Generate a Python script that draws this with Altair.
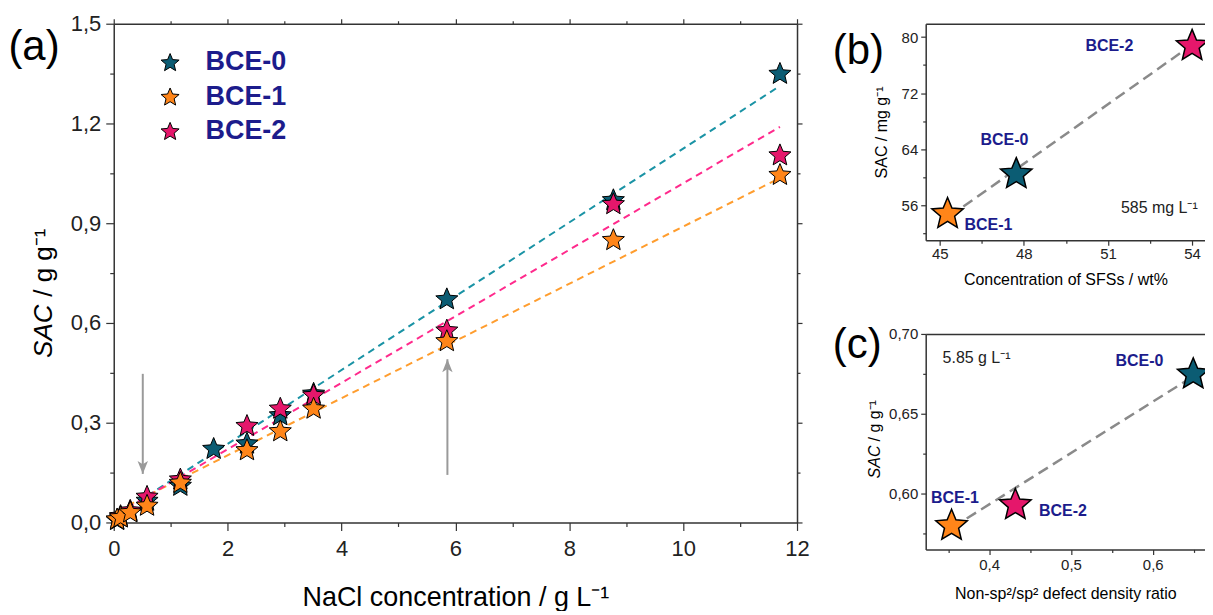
import math
import altair as alt
import pandas as pd

# ---------------- data: panel (a) ----------------
nacl = [0.06, 0.12, 0.29, 0.585, 1.17, 1.755, 2.34, 2.925, 3.51, 5.85, 8.775, 11.7]
sac_bce0 = [0.010, 0.018, 0.035, 0.068, 0.113, 0.224, 0.240, 0.325, 0.390, 0.674, 0.972, 1.352]
sac_bce1 = [0.012, 0.018, 0.033, 0.053, 0.122, None, 0.220, 0.277, 0.345, 0.548, 0.852, 1.048]
sac_bce2 = [None, 0.022, 0.038, 0.080, 0.132, None, 0.293, 0.345, 0.385, 0.580, 0.960, 1.107]
series = ["BCE-0", "BCE-1", "BCE-2"]

fit_x = [0.06, 11.7]
fit_bce0 = [0.021, 1.313]
fit_bce1 = [0.035, 1.036]
fit_bce2 = [0.026, 1.190]

arrow_x = [0.51, 5.86]
arrow_from = [0.447, 0.143]
arrow_to = [0.146, 0.491]

# ---------------- data: panel (b) ----------------
sfs_wt = [47.73, 45.28, 54.0]          # BCE-0, BCE-1, BCE-2
sac_585 = [60.65, 54.96, 78.95]
fit_b_x = [45.35, 54.0]
fit_b_y = [54.4, 78.9]

# ---------------- data: panel (c) ----------------
defect_ratio = [0.6495, 0.354, 0.432]  # BCE-0, BCE-1, BCE-2
sac_585g = [0.6757, 0.581, 0.594]
fit_c_x = [0.355, 0.648]
fit_c_y = [0.579, 0.673]

# ---------------- styles ----------------
FONT = "Liberation Sans"
NAVY = "#1c1c8c"
AXC = "#333333"
star_colors = ["#0b5c73", "#ff8519", "#e5176b"]
line_colors = ["#1a93a5", "#ff9d2e", "#ff2a8c"]


def star_path(inner=0.45):
    pts = []
    for k in range(10):
        ang = math.radians(-90 + 36 * k)
        r = 1.0 if k % 2 == 0 else inner
        pts.append(f"{r * math.cos(ang):.4f},{r * math.sin(ang) + 0.095:.4f}")
    return "M" + " L".join(pts) + " Z"


STAR = star_path()
HEAD_DOWN = "M0,0 L-0.4,-1 L0,-0.75 L0.4,-1 Z"
HEAD_UP = "M0,0 L-0.4,1 L0,0.75 L0.4,1 Z"


def axis(orient, values, major_test, label_expr, lsize, tick=8, minor=4,
         labels=True, title=None, tsize=None, lpad=4, tpad=8, ticks=True):
    kw = dict(orient=orient, values=values, grid=False, domainColor=AXC, domainWidth=1.5,
              tickColor=AXC, tickWidth=1.2, ticks=ticks,
              labels=labels, labelFont=FONT, labelFontSize=lsize, labelColor="#222222",
              labelPadding=lpad, labelFlush=False, labelOverlap=False)
    if ticks:
        kw["tickSize"] = {"condition": {"test": f"!({major_test})", "value": minor}, "value": tick}
    if labels:
        kw["labelExpr"] = f"({major_test}) ? {label_expr} : ''"
    if title is not None:
        kw.update(title=title, titleFont=FONT, titleFontSize=tsize, titleFontWeight="normal",
                  titleColor="black", titlePadding=tpad)
    else:
        kw["title"] = None
    return alt.Axis(**kw)


def rotated_title(parts, xs, ys, size):
    """Vertical axis title made of an italic and an upright part."""
    layers = []
    for p in parts:
        layers.append(
            alt.Chart(pd.DataFrame([p])).mark_text(
                font=FONT, fontSize=size, color="black", angle=270, align="left",
                baseline="middle", fontStyle=p["style"]
            ).encode(x=alt.X("x:Q", scale=xs, axis=None), y=alt.Y("y:Q", scale=ys, axis=None),
                     text="t:N")
        )
    return layers


# ================= panel (a) =================
rows = []
for name, vals in [("BCE-0", sac_bce0), ("BCE-2", sac_bce2), ("BCE-1", sac_bce1)]:
    for xv, yv in zip(nacl, vals):
        if yv is not None:
            rows.append({"x": xv, "y": yv, "series": name})
df_a = pd.DataFrame(rows)

fit_rows = []
for name, ys in zip(series, [fit_bce0, fit_bce1, fit_bce2]):
    for xv, yv in zip(fit_x, ys):
        fit_rows.append({"x": xv, "y": yv, "series": name})
df_fit = pd.DataFrame(fit_rows)

df_arrow = pd.DataFrame({"x": arrow_x, "y": arrow_from, "y2": arrow_to})

xs_a = alt.Scale(domain=[0, 12], nice=False, zero=False)
ys_a = alt.Scale(domain=[0, 1.5], nice=False, zero=False)

xa_vals = list(range(13))
ya_vals = [round(i * 0.15, 2) for i in range(11)]
xa_major = "datum.value % 2 == 0"
ya_major = "round(datum.value * 100) % 30 == 0"
ya_label = "replace(format(datum.value, '.1f'), '.', ',')"

lines_a = alt.Chart(df_fit).mark_line(strokeDash=[7, 5], strokeWidth=2).encode(
    x=alt.X("x:Q", scale=xs_a, axis=axis("top", xa_vals, xa_major, "", 20, tick=5, minor=3, labels=False)),
    y=alt.Y("y:Q", scale=ys_a, axis=axis("right", ya_vals, ya_major, "", 20, tick=5, minor=3, labels=False)),
    color=alt.Color("series:N", scale=alt.Scale(domain=series, range=line_colors), legend=None),
)

points_a = alt.Chart(df_a).mark_point(
    shape=STAR, filled=True, size=540, opacity=1, stroke="black", strokeWidth=1
).encode(
    x=alt.X("x:Q", scale=xs_a,
            axis=axis("bottom", xa_vals, xa_major, "datum.label", 22, tick=8, minor=4,
                      title="NaCl concentration / g L\u207b\u00b9", tsize=27, lpad=8, tpad=25)),
    y=alt.Y("y:Q", scale=ys_a,
            axis=axis("left", ya_vals, ya_major, ya_label, 22, tick=8, minor=4, lpad=5)),
    color=alt.Color("series:N", scale=alt.Scale(domain=series, range=star_colors),
                    legend=alt.Legend(orient="none", legendX=43, legendY=25, title=None,
                                      symbolType=STAR, symbolSize=360, symbolStrokeColor="black",
                                      symbolStrokeWidth=1, symbolOpacity=1,
                                      labelFont=FONT, labelFontSize=27, labelFontWeight="bold",
                                      labelColor=NAVY, labelOffset=22, rowPadding=6.5, padding=0)),
    order=alt.Order("ord:Q"),
).transform_calculate(ord="datum.series == 'BCE-0' ? 0 : (datum.series == 'BCE-2' ? 1 : 2)")

arrows_a = alt.Chart(df_arrow).mark_rule(color="#9a9a9a", strokeWidth=2).encode(
    x=alt.X("x:Q", scale=xs_a, axis=None),
    y=alt.Y("y:Q", scale=ys_a, axis=None),
    y2="y2:Q",
)
head_down = alt.Chart(df_arrow.iloc[[0]]).mark_point(
    shape=HEAD_DOWN, filled=True, size=676, color="#9a9a9a", opacity=1, strokeWidth=0
).encode(x=alt.X("x:Q", scale=xs_a, axis=None), y=alt.Y("y2:Q", scale=ys_a, axis=None))
head_up = alt.Chart(df_arrow.iloc[[1]]).mark_point(
    shape=HEAD_UP, filled=True, size=676, color="#9a9a9a", opacity=1, strokeWidth=0
).encode(x=alt.X("x:Q", scale=xs_a, axis=None), y=alt.Y("y2:Q", scale=ys_a, axis=None))

lab_a = alt.Chart(pd.DataFrame({"x": [-1.40], "y": [1.43], "t": ["(a)"]})).mark_text(
    font=FONT, fontSize=42, color="black"
).encode(x=alt.X("x:Q", scale=xs_a, axis=None), y=alt.Y("y:Q", scale=ys_a, axis=None), text="t:N")

title_a = rotated_title(
    [{"x": -1.226, "y": 0.495, "t": "SAC", "style": "italic"},
     {"x": -1.226, "y": 0.679, "t": "/ g g\u207b\u00b9", "style": "normal"}],
    xs_a, ys_a, 26)

panel_a = alt.layer(lines_a, arrows_a, head_down, head_up, points_a, lab_a, *title_a).resolve_scale(
    color="independent").resolve_axis(x="independent", y="independent").properties(width=685, height=500)


# ================= panels (b) and (c) =================
def side_panel(xvals, yvals, fx, fy, xdom, ydom, x_ticks, x_major, x_label, y_ticks, y_major, y_label,
               xtitle, ytitle, labels, note, tag, ypad, xlpad, xtpad, title_parts=None):
    df_p = pd.DataFrame({"x": xvals, "y": yvals, "series": series})
    df_l = pd.DataFrame({"x": fx, "y": fy})
    xs = alt.Scale(domain=xdom, nice=False, zero=False)
    ys = alt.Scale(domain=ydom, nice=False, zero=False)
    line = alt.Chart(df_l).mark_line(strokeDash=[11, 6], strokeWidth=2.5, color="#8a8a8a").encode(
        x=alt.X("x:Q", scale=xs, axis=axis("top", x_ticks, x_major, "", 15, labels=False, ticks=False)),
        y=alt.Y("y:Q", scale=ys, axis=None),
    )
    pts = alt.Chart(df_p).mark_point(
        shape=STAR, filled=True, size=1100, opacity=1, stroke="black", strokeWidth=1.5, clip=True
    ).encode(
        x=alt.X("x:Q", scale=xs, axis=axis("bottom", x_ticks, x_major, x_label, 15, tick=5, minor=3,
                                           title=xtitle, tsize=16, lpad=xlpad, tpad=xtpad)),
        y=alt.Y("y:Q", scale=ys, axis=axis("left", y_ticks, y_major, y_label, 15, tick=5, minor=3,
                                           title=ytitle, tsize=16, lpad=3, tpad=ypad)),
        color=alt.Color("series:N", scale=alt.Scale(domain=series, range=star_colors), legend=None),
    )
    df_t = pd.DataFrame(labels)
    txt = alt.Chart(df_t).mark_text(font=FONT, fontSize=16, fontWeight="bold", color=NAVY).encode(
        x=alt.X("x:Q", scale=xs, axis=None), y=alt.Y("y:Q", scale=ys, axis=None), text="t:N")
    df_n = pd.DataFrame([note])
    nt = alt.Chart(df_n).mark_text(font=FONT, fontSize=16, color="#222222").encode(
        x=alt.X("x:Q", scale=xs, axis=None), y=alt.Y("y:Q", scale=ys, axis=None), text="t:N")
    df_g = pd.DataFrame([tag])
    tg = alt.Chart(df_g).mark_text(font=FONT, fontSize=42, color="black").encode(
        x=alt.X("x:Q", scale=xs, axis=None), y=alt.Y("y:Q", scale=ys, axis=None), text="t:N")
    extra = rotated_title(title_parts, xs, ys, 16) if title_parts else []
    return alt.layer(line, pts, txt, nt, tg, *extra).resolve_axis(x="independent", y="independent")


panel_b = side_panel(
    sfs_wt, sac_585, fit_b_x, fit_b_y, [44.5, 54.46], [51.0, 81.9],
    [45, 46.5, 48, 49.5, 51, 52.5, 54], "(datum.value - 45) % 3 == 0", "datum.label",
    [52, 56, 60, 64, 68, 72, 76, 80], "datum.value % 8 == 0", "datum.label",
    "Concentration of SFSs / wt%", "SAC / mg g\u207b\u00b9",
    [{"x": 51.05, "y": 78.66, "t": "BCE-2"}, {"x": 47.31, "y": 65.29, "t": "BCE-0"},
     {"x": 46.74, "y": 53.2, "t": "BCE-1"}],
    {"x": 52.83, "y": 55.58, "t": "585 mg L\u207b\u00b9"},
    {"x": 42.1, "y": 78.05, "t": "(b)"}, 12, 1, 10,
).properties(width=280, height=217)

panel_c = side_panel(
    defect_ratio, sac_585g, fit_c_x, fit_c_y, [0.3224, 0.6639], [0.5653, 0.70],
    [0.35, 0.4, 0.45, 0.5, 0.55, 0.6, 0.65], "round(datum.value * 100) % 10 == 0",
    "replace(format(datum.value, '.1f'), '.', ',')",
    [0.575, 0.6, 0.625, 0.65, 0.675, 0.7], "round(datum.value * 1000) % 50 == 0",
    "replace(format(datum.value, '.2f'), '.', ',')",
    "Non-sp\u00b2/sp\u00b2 defect density ratio", None,
    [{"x": 0.5837, "y": 0.683, "t": "BCE-0"}, {"x": 0.3581, "y": 0.5975, "t": "BCE-1"},
     {"x": 0.4902, "y": 0.5893, "t": "BCE-2"}],
    {"x": 0.3846, "y": 0.685, "t": "5.85 g L\u207b\u00b9"},
    {"x": 0.2386, "y": 0.693, "t": "(c)"}, 10, 3, 13,
    title_parts=[{"x": 0.2606, "y": 0.6097, "t": "SAC", "style": "italic"},
                 {"x": 0.2606, "y": 0.6328, "t": "/ g g\u207b\u00b9", "style": "normal"}],
).properties(width=280, height=216)

right = alt.vconcat(panel_b, panel_c, spacing=94, bounds="flush")
chart = alt.hconcat(panel_a, right, spacing=129, bounds="flush").properties(
    padding={"left": 0, "top": 4, "right": 0, "bottom": 0}
).configure_view(stroke=None)

chart.save("out.html", embed_options={"renderer": "svg", "actions": False})
